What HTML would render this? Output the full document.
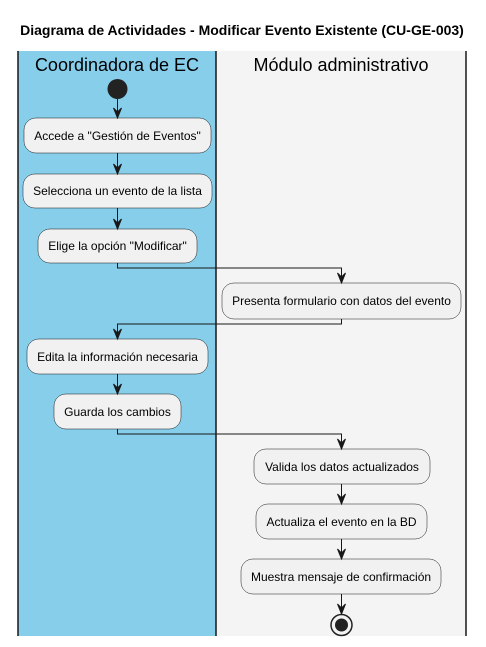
<!DOCTYPE html>
<html><head><meta charset="utf-8"><style>
html,body{margin:0;padding:0;background:#fff;}
svg{display:block;}
text{font-family:"Liberation Sans",Arial,sans-serif;}
</style></head><body>
<svg width="486" height="647" viewBox="0 0 486 647" xmlns="http://www.w3.org/2000/svg">
<defs>
<g id="ah"><polygon points="0,0 -4,-10 0,-6 4,-10" fill="#181818" stroke="#181818" stroke-width="1"/></g>
</defs>
<text x="242" y="35" text-anchor="middle" font-size="14" font-weight="bold" fill="#000">Diagrama de Actividades - Modificar Evento Existente (CU-GE-003)</text>
<rect x="18" y="51" width="198" height="585" fill="#87CEEB"/>
<rect x="216" y="51" width="250" height="585" fill="#F4F4F4"/>
<line x1="18" y1="51" x2="18" y2="636" stroke="#181818" stroke-width="1.5"/>
<line x1="216" y1="51" x2="216" y2="636" stroke="#181818" stroke-width="1.5"/>
<line x1="466" y1="51" x2="466" y2="636" stroke="#181818" stroke-width="1.5"/>
<text x="117" y="71" text-anchor="middle" font-size="18" fill="#000">Coordinadora de EC</text>
<text x="341" y="71" text-anchor="middle" font-size="18" fill="#000">Módulo administrativo</text>

<circle cx="117.5" cy="89" r="10" fill="#222"/>

<g fill="#F1F1F1" stroke="#181818" stroke-width="0.5">
<rect x="24" y="118" width="187" height="35" rx="12"/>
<rect x="23" y="174" width="189" height="34" rx="12"/>
<rect x="38" y="229" width="159" height="34" rx="12"/>
<rect x="222" y="283" width="239" height="36" rx="12"/>
<rect x="27" y="339" width="181" height="35" rx="12"/>
<rect x="54" y="394" width="127" height="35" rx="12"/>
<rect x="254" y="449" width="176" height="35" rx="12"/>
<rect x="256" y="504" width="171" height="35" rx="12"/>
<rect x="241" y="559" width="200" height="35" rx="12"/>
</g>
<g font-size="12" text-anchor="middle" fill="#000">
<text x="117.5" y="140">Accede a "Gestión de Eventos"</text>
<text x="117.5" y="195">Selecciona un evento de la lista</text>
<text x="117.5" y="250">Elige la opción "Modificar"</text>
<text x="341.5" y="305">Presenta formulario con datos del evento</text>
<text x="117.5" y="361">Edita la información necesaria</text>
<text x="117.5" y="416">Guarda los cambios</text>
<text x="342" y="471">Valida los datos actualizados</text>
<text x="341.5" y="526">Actualiza el evento en la BD</text>
<text x="341" y="581">Muestra mensaje de confirmación</text>
</g>

<g stroke="#181818" stroke-width="1" fill="none">
<line x1="117.5" y1="99" x2="117.5" y2="117"/>
<line x1="117.5" y1="153" x2="117.5" y2="173"/>
<line x1="117.5" y1="208" x2="117.5" y2="228"/>
<polyline points="117.5,263 117.5,268 341.5,268 341.5,282"/>
<polyline points="341.5,319 341.5,324 117.5,324 117.5,338"/>
<line x1="117.5" y1="374" x2="117.5" y2="393"/>
<polyline points="117.5,429 117.5,434 341.5,434 341.5,448"/>
<line x1="341.5" y1="484" x2="341.5" y2="503"/>
<line x1="341.5" y1="539" x2="341.5" y2="558"/>
<line x1="341.5" y1="594" x2="341.5" y2="613"/>
</g>
<use href="#ah" x="117.5" y="118"/>
<use href="#ah" x="117.5" y="174"/>
<use href="#ah" x="117.5" y="229"/>
<use href="#ah" x="341.5" y="283"/>
<use href="#ah" x="117.5" y="339"/>
<use href="#ah" x="117.5" y="394"/>
<use href="#ah" x="341.5" y="449"/>
<use href="#ah" x="341.5" y="504"/>
<use href="#ah" x="341.5" y="559"/>
<use href="#ah" x="341.5" y="614"/>

<circle cx="341.5" cy="625" r="10.5" fill="none" stroke="#222" stroke-width="1.5"/>
<circle cx="341.5" cy="625" r="6.5" fill="#222"/>
</svg>
</body></html>
